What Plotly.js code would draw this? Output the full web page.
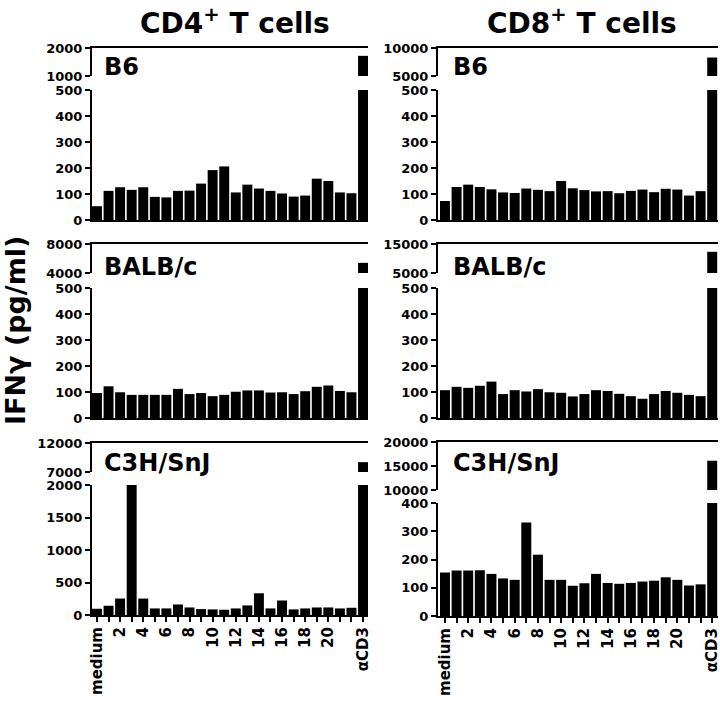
<!DOCTYPE html>
<html><head><meta charset="utf-8">
<script src="https://cdn.plot.ly/plotly-3.0.1.min.js"></script>
<style>html,body{margin:0;padding:0;background:#fff;} #chart{width:720px;height:701px;}</style>
</head><body><div id="chart"></div>
<script>
// ---- data ----
const categories = ['medium','1','2','3','4','5','6','7','8','9','10','11','12','13','14','15','16','17','18','19','20','21','22','αCD3'];
const labelledCategories = ['medium','2','4','6','8','10','12','14','16','18','20','αCD3'];
const strains = ['B6','BALB/c','C3H/SnJ'];
const columnTitles = ['CD4<sup>+</sup> T cells','CD8<sup>+</sup> T cells'];
const yTitle = 'IFNγ (pg/ml)';

const cd4_B6   = [53,112,126,116,126,89,87,112,113,140,192,206,106,136,121,112,102,90,94,159,150,106,103,1720];
const cd8_B6   = [73,127,136,127,118,106,104,121,116,111,150,122,115,110,111,103,112,117,107,120,117,94,111,8300];
const cd4_BALB = [96,122,99,89,89,89,89,112,92,96,84,89,101,106,106,98,99,92,103,120,125,104,99,5400];
const cd8_BALB = [107,120,116,124,140,92,107,102,111,99,97,83,92,107,104,93,84,74,92,104,97,89,84,12300];
const cd4_C3H  = [96,142,253,2000,253,101,101,162,116,91,86,81,101,147,334,101,223,86,101,116,116,101,111,8700];
const cd8_C3H  = [154,161,161,162,149,133,128,331,217,128,128,107,116,149,117,114,117,122,125,137,128,108,112,16100];

// axis scales (lower segment / upper segment of broken axis)
const lowTicks_B6 = [0,100,200,300,400,500];
const lowTicks_C3H_CD4 = [0,500,1000,1500,2000];
const lowTicks_C3H_CD8 = [0,100,200,300,400];
const upTicks_cd4_B6 = [1000,2000];
const upTicks_cd8_B6 = [5000,10000];
const upTicks_cd4_BALB = [4000,8000];
const upTicks_cd8_BALB = [5000,15000];
const upTicks_cd4_C3H = [7000,12000];
const upTicks_cd8_C3H = [10000,15000,20000];

// ---- layout geometry (pixels) ----
const W = 720, H = 701;
const px = v => v / W;
const py = v => 1 - v / H;
const FONT = 'DejaVu Sans, sans-serif';

const cols = [{x0: 92, x1: 368, xr: [-0.43, 23.43], lx: 102}, {x0: 438, x1: 718, xr: [-0.6, 23.5], lx: 451}];

const panels = [
  {vals: cd4_B6,   col: 0, row: 0, up: [48,76],   low: [90,220],  lowR: [0,500],  lowT: lowTicks_B6,      upR: [1000,2000],  upT: upTicks_cd4_B6,  labY: 67},
  {vals: cd8_B6,   col: 1, row: 0, up: [48,76],   low: [90,220],  lowR: [0,500],  lowT: lowTicks_B6,      upR: [5000,10000], upT: upTicks_cd8_B6,  labY: 67},
  {vals: cd4_BALB, col: 0, row: 1, up: [244,273], low: [288,418], lowR: [0,500],  lowT: lowTicks_B6,      upR: [4000,8000],  upT: upTicks_cd4_BALB, labY: 267},
  {vals: cd8_BALB, col: 1, row: 1, up: [244,273], low: [288,418], lowR: [0,500],  lowT: lowTicks_B6,      upR: [5000,15000], upT: upTicks_cd8_BALB, labY: 267},
  {vals: cd4_C3H,  col: 0, row: 2, up: [443,472], low: [485,615], lowR: [0,2000], lowT: lowTicks_C3H_CD4, upR: [7000,12000], upT: upTicks_cd4_C3H, labY: 463},
  {vals: cd8_C3H,  col: 1, row: 2, up: [442,490], low: [503,616], lowR: [0,400],  lowT: lowTicks_C3H_CD8, upR: [10000,20000], upT: upTicks_cd8_C3H, labY: 463}
];

const tickFont = {family: FONT, size: 13, color: '#000', weight: 'bold'};
const data = [];
const layout = {
  width: W, height: H,
  margin: {l: 0, r: 0, t: 0, b: 0},
  paper_bgcolor: '#fff', plot_bgcolor: 'rgba(0,0,0,0)',
  showlegend: false, bargap: 0.14,
  annotations: []
};

let axCount = 0;
panels.forEach((p, i) => {
  const nLow = ++axCount, nUp = ++axCount;
  const c = cols[p.col];
  const xdom = [px(c.x0), px(c.x1)];
  const bottomRow = p.row === 2;
  layout['xaxis' + (nLow === 1 ? '' : nLow)] = {
    domain: xdom, anchor: 'y' + nLow, type: 'category', range: c.xr,
    showline: true, linewidth: 2, linecolor: '#000', showgrid: false, zeroline: false,
    tickmode: 'array', tickvals: categories,
    ticks: bottomRow ? 'outside' : '', ticklen: 5, tickwidth: 2, tickcolor: '#000',
    showticklabels: false
  };
  layout['yaxis' + nLow] = {
    domain: [py(p.low[1]), py(p.low[0])], anchor: 'x' + nLow, range: p.lowR,
    tickmode: 'array', tickvals: p.lowT, tickformat: 'd',
    showline: true, linewidth: 2, linecolor: '#000', showgrid: false, zeroline: false,
    ticks: 'outside', ticklen: 5, tickwidth: 2, tickcolor: '#000', tickfont: tickFont
  };
  layout['xaxis' + nUp] = {
    domain: xdom, anchor: 'y' + nUp, type: 'category', range: c.xr, side: 'top',
    showline: true, linewidth: 2, linecolor: '#000', showgrid: false, zeroline: false,
    ticks: '', showticklabels: false
  };
  layout['yaxis' + nUp] = {
    domain: [py(p.up[1]), py(p.up[0])], anchor: 'x' + nUp, range: p.upR,
    tickmode: 'array', tickvals: p.upT, tickformat: 'd',
    showline: true, linewidth: 2, linecolor: '#000', showgrid: false, zeroline: false,
    ticks: 'outside', ticklen: 5, tickwidth: 2, tickcolor: '#000', tickfont: tickFont
  };
  [nLow, nUp].forEach(n => {
    data.push({type: 'bar', x: categories, y: p.vals, xaxis: 'x' + n, yaxis: 'y' + n,
      marker: {color: '#000', line: {width: 0}}, hoverinfo: 'skip'});
  });
  if (bottomRow) {
    // label-only axis overlaying the bottom axis (labels on even peptides only)
    const nLab = ++axCount;
    layout['xaxis' + nLab] = {
      domain: xdom, anchor: 'y' + nLow, overlaying: 'x' + nLow, type: 'category', range: c.xr,
      categoryorder: 'array', categoryarray: categories,
      showline: false, showgrid: false, zeroline: false, ticks: 'outside', ticklen: 5, tickcolor: 'rgba(0,0,0,0)',
      tickmode: 'array', tickvals: labelledCategories, ticktext: labelledCategories,
      tickangle: -90, tickfont: {family: FONT, size: 15, color: '#000', weight: 'bold'}
    };
    data.push({type: 'bar', x: categories, y: p.vals.map(() => null), xaxis: 'x' + nLab, yaxis: 'y' + nLow,
      marker: {color: 'rgba(0,0,0,0)'}, hoverinfo: 'skip', showlegend: false});
  }
  layout.annotations.push({
    text: strains[p.row], xref: 'paper', yref: 'paper', x: px(c.lx), y: py(p.labY),
    xanchor: 'left', yanchor: 'middle', showarrow: false,
    font: {family: FONT, size: 24, color: '#000', weight: 'bold'}
  });
});

columnTitles.forEach((t, k) => {
  layout.annotations.push({
    text: t, xref: 'paper', yref: 'paper', x: px(k === 0 ? 235 : 582), y: py(21),
    xanchor: 'center', yanchor: 'middle', showarrow: false,
    font: {family: FONT, size: 28, color: '#000', weight: 'bold'}
  });
});
layout.annotations.push({
  text: yTitle, xref: 'paper', yref: 'paper', x: px(15), y: py(331),
  xanchor: 'center', yanchor: 'middle', textangle: -90, showarrow: false,
  font: {family: FONT, size: 27, color: '#000', weight: 'bold'}
});

Plotly.newPlot('chart', data, layout, {staticPlot: true, displayModeBar: false});
</script>
</body></html>
